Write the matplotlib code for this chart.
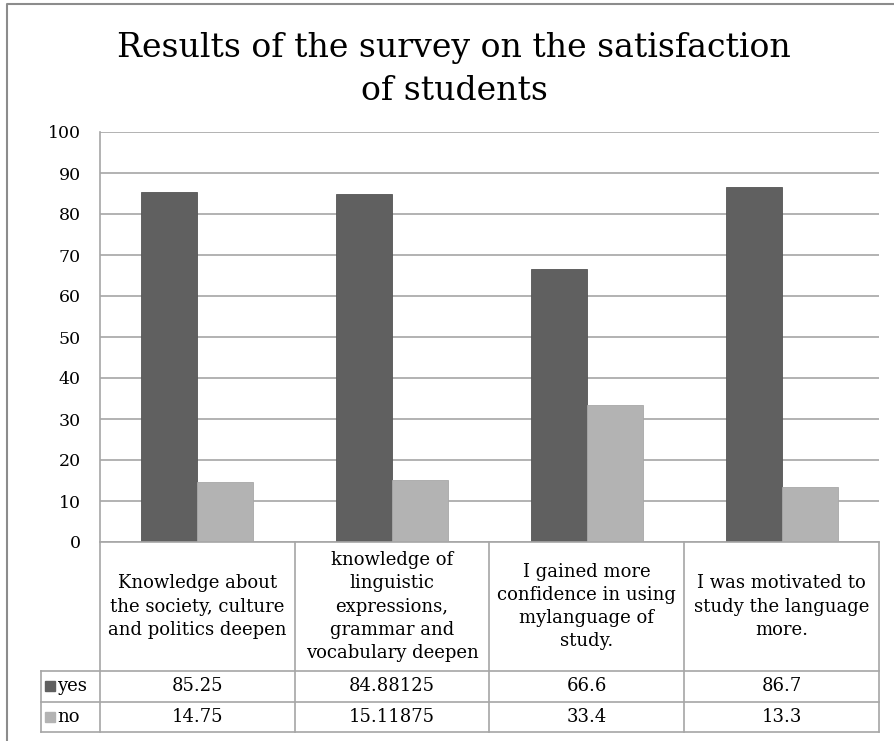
import matplotlib
matplotlib.use("Agg")
import matplotlib.pyplot as plt
from matplotlib.lines import Line2D
from matplotlib.patches import Rectangle
import numpy as np

plt.rcParams["font.family"] = ["DejaVu Serif"]

# Data
title_lines = ["Results of the survey on the satisfaction", "of students"]
categories = [
    "Knowledge about\nthe society, culture\nand politics deepen",
    "knowledge of\nlinguistic\nexpressions,\ngrammar and\nvocabulary deepen",
    "I gained more\nconfidence in using\nmylanguage of\nstudy.",
    "I was motivated to\nstudy the language\nmore.",
]
yes_values = [85.25, 84.88125, 66.6, 86.7]
no_values = [14.75, 15.11875, 33.4, 13.3]
series_names = ["yes", "no"]
yes_labels = ["85.25", "84.88125", "66.6", "86.7"]
no_labels = ["14.75", "15.11875", "33.4", "13.3"]

YES_COLOR = "#606060"
NO_COLOR = "#b3b3b3"
LINE_COLOR = "#a6a6a6"

W, H = 894, 741
fig = plt.figure(figsize=(W / 100, H / 100), dpi=100)


def px_rect(x0, y0, x1, y1):
    # pixel box (top-left origin) -> figure fraction
    return [x0 / W, 1 - y1 / H, (x1 - x0) / W, (y1 - y0) / H]


# outer chart border (only left and top visible)
fig.add_artist(Line2D([7 / W, 7 / W, 1], [0, 1 - 4 / H, 1 - 4 / H],
                      transform=fig.transFigure, color="#8c8c8c", lw=1.5))

# title, two lines placed by baseline
for line, base in zip(title_lines, [57, 100]):
    fig.text(454 / W, 1 - base / H, line, ha="center", va="baseline", fontsize=23.9)

# main plot area
ax = fig.add_axes(px_rect(100, 132, 879, 542))
x = np.arange(len(categories))
bw = 0.287
ax.bar(x - bw / 2, yes_values, bw, color=YES_COLOR, edgecolor="#555555", lw=0.6, zorder=3)
ax.bar(x + bw / 2, no_values, bw, color=NO_COLOR, edgecolor="#a8a8a8", lw=0.6, zorder=3)
ax.set_xlim(-0.5, len(categories) - 0.5)
ax.set_ylim(0, 100)
ax.set_yticks(np.arange(0, 101, 10))
ax.set_xticks([])
ax.yaxis.grid(True, color=LINE_COLOR, lw=1.2)
ax.set_axisbelow(True)
ax.tick_params(axis="y", length=0, pad=14, labelsize=12.5)
for s in ["top", "right", "bottom"]:
    ax.spines[s].set_visible(False)
ax.spines["left"].set_color(LINE_COLOR)
ax.spines["left"].set_linewidth(1.2)

# data table below the plot
left_ext = (100 - 41) / 195
tax = fig.add_axes(px_rect(41, 542, 879, 732))
tax.set_xlim(-0.5 - left_ext, len(categories) - 0.5)
tax.set_ylim(190, 0)
tax.axis("off")
hdr, r1, r2 = 129, 159.5, 190
lkw = dict(color=LINE_COLOR, lw=1.2, clip_on=False)
tax.plot([-0.5, len(categories) - 0.5], [0, 0], **lkw)
for b in np.arange(len(categories) + 1) - 0.5:
    tax.plot([b, b], [0, r2], **lkw)
for yy in [hdr, r1, r2]:
    tax.plot([-0.5 - left_ext, len(categories) - 0.5], [yy, yy], **lkw)
tax.plot([-0.5 - left_ext, -0.5 - left_ext], [hdr, r2], **lkw)

for i, cat in enumerate(categories):
    tax.text(i, hdr / 2, cat, ha="center", va="center", fontsize=13, linespacing=1.38)
    tax.text(i, (hdr + r1) / 2, yes_labels[i], ha="center", va="center", fontsize=13)
    tax.text(i, (r1 + r2) / 2, no_labels[i], ha="center", va="center", fontsize=13)

# legend keys in the first column
kx = -0.5 - left_ext + 0.022
for name, col, (ya, yb) in zip(series_names, [YES_COLOR, NO_COLOR], [(hdr, r1), (r1, r2)]):
    yc = (ya + yb) / 2
    tax.add_patch(Rectangle((kx, yc - 5), 0.05, 10, color=col, clip_on=False))
    tax.text(kx + 0.062, yc, name, ha="left", va="center", fontsize=13)

fig.savefig("out.png", dpi=100)
